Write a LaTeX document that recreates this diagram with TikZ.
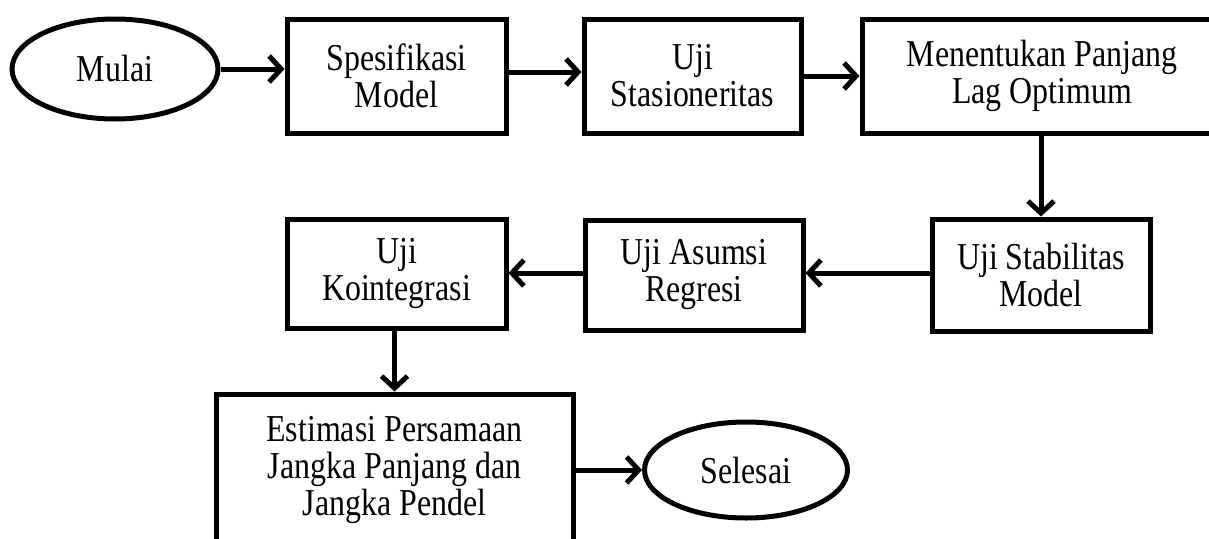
\documentclass[tikz,border=0pt]{standalone}
\usepackage{fontspec}
\setmainfont{Liberation Serif}[FakeStretch=0.84]
\usetikzlibrary{arrows.meta,shapes.geometric}
\begin{document}
\begin{tikzpicture}[x=1pt,y=-1pt,
 box/.style={draw, line width=5pt, rectangle, align=center, font=\fontsize{38}{37}\selectfont, inner sep=0pt},
 oval/.style={draw, line width=5pt, ellipse, align=center, font=\fontsize{38}{37}\selectfont, inner sep=0pt},
 arr/.style={line width=5pt, -{Straight Barb[length=12pt,width=26pt]}},
]
\useasboundingbox (0,0) rectangle (1209,538);
\clip (0,0) rectangle (1209,538);
\node[oval, minimum width=206pt, minimum height=100pt] (mulai) at (115,69) {Mulai};
\node[box, minimum width=219pt, minimum height=114pt] (spes) at (396.5,76) {Spesifikasi\\Model};
\node[box, minimum width=217pt, minimum height=114pt] (uji) at (692.5,76) {Uji\\Stasioneritas};
\node[box, minimum width=360pt, minimum height=114pt] (ment) at (1042,76) {Menentukan Panjang\\Lag Optimum};
\node[box, minimum width=218pt, minimum height=112pt] (stab) at (1041,275) {Uji Stabilitas\\Model};
\node[box, minimum width=218pt, minimum height=110pt] (asum) at (694,275) {Uji Asumsi\\Regresi};
\node[box, minimum width=219pt, minimum height=109pt] (koin) at (396.5,273.5) {Uji\\Kointegrasi};
\node[box, minimum width=357pt, minimum height=152pt] (estim) at (394.5,470) {Estimasi Persamaan\\Jangka Panjang dan\\Jangka Pendel};
\node[oval, minimum width=203pt, minimum height=96pt] (sel) at (746,470) {Selesai};
\coordinate (r1) at (0,72);
\coordinate (r2) at (0,273);
\draw[arr] (mulai.east) -- (mulai.east -| spes.west);
\draw[arr] (spes.east |- r1) -- (uji.west |- r1);
\draw[arr] (uji.east) -- (ment.west |- uji.east);
\draw[arr] (ment.south -| stab.north) -- (stab.north);
\draw[arr] (stab.west |- r2) -- (asum.east |- r2);
\draw[arr] (asum.west |- r2) -- (koin.east |- r2);
\draw[arr] (koin.south -| estim.north) -- (estim.north);
\draw[arr] (estim.east |- sel.west) -- (sel.west);
\end{tikzpicture}
\end{document}
